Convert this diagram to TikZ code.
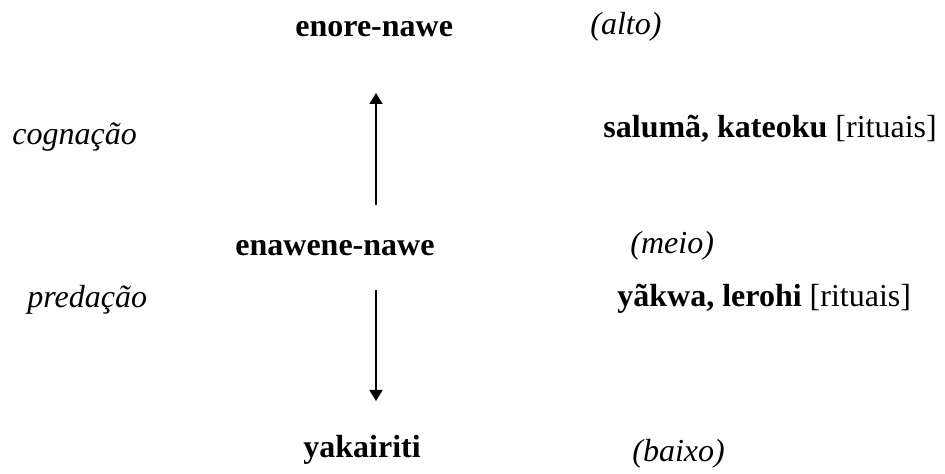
\documentclass[tikz,border=0pt]{standalone}
\usepackage{fontspec}
\setmainfont{Liberation Serif}
\usetikzlibrary{arrows.meta}
\begin{document}
\begin{tikzpicture}[x=0.5pt,y=-0.5pt,
  lbl/.style={anchor=base west,inner sep=0pt,font=\fontsize{16}{19}\selectfont},
  term/.style={lbl,font=\fontsize{16}{19}\selectfont\bfseries},
  gloss/.style={lbl,font=\fontsize{16}{19}\selectfont\itshape},
  arr/.style={line width=0.9pt,-{Triangle[width=6.5pt,length=5.5pt]}}]
\useasboundingbox (0,0) rectangle (945,474);
% left labels
\node[gloss] (cog) at (12,145) {cognação};
\node[gloss] (pred) at (27,308) {predação};
% central terms
\node[term] (enore) at (295,37) {enore-nawe};
\node[term] (enawene) at (235,256) {enawene-nawe};
\node[term] (yaka) at (303,458) {yakairiti};
% levels
\node[gloss] (alto) at (590,35) {(alto)};
\node[gloss] (meio) at (630,254) {(meio)};
\node[gloss] (baixo) at (632,461) {(baixo)};
% rituals
\node[lbl] (rit1) at (603,138) {\textbf{salumã, kateoku} [rituais]};
\node[lbl] (rit2) at (617,307) {\textbf{yãkwa, lerohi} [rituais]};
% arrows
\coordinate (upS) at (376,205);
\coordinate (upE) at (376,93);
\coordinate (dnS) at (376,290);
\coordinate (dnE) at (376,401);
\draw[arr] (upS) -- (upE);
\draw[arr] (dnS) -- (dnE);
\end{tikzpicture}
\end{document}
